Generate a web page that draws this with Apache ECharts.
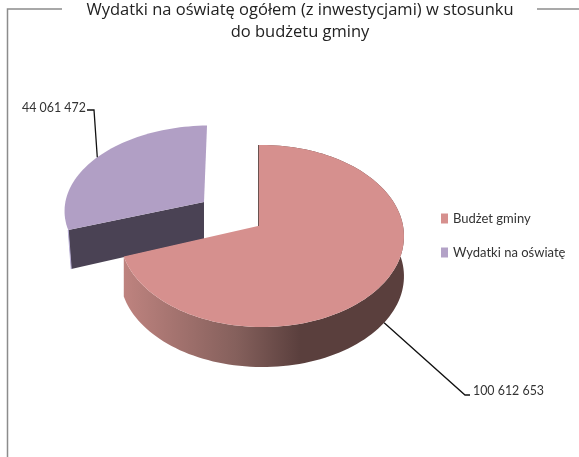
<!DOCTYPE html>
<html>
<head>
<meta charset="utf-8">
<title>Wydatki na oświatę</title>
<script src="https://cdn.jsdelivr.net/npm/echarts@6/dist/echarts.min.js"></script>
<style>
html, body { margin: 0; padding: 0; background: #fff; }
#main { width: 579px; height: 457px; }
</style>
</head>
<body>
<div id="main"></div>
<script>
// dane
var categories = ['Budżet gminy', 'Wydatki na oświatę'];
var values = [100612653, 44061472];
var titleText = 'Wydatki na oświatę ogółem (z inwestycjami) w stosunku\ndo budżetu gminy';

var total = values[0] + values[1];
var sweep = values[0] / total * 360;

// rzut okręgu z perspektywą, bo ECharts nie ma pie 3D
function project(g, deg) {
	var r = deg * Math.PI / 180;
	var u = Math.sin(r), v = Math.cos(r);
	var d = 1 + g.p * v + g.q * u;
	return [g.cx + (g.a * u + g.s * v) / d, g.cy - g.b * v / d];
}

function arc(g, from, to, dy) {
	var pts = [];
	var n = Math.ceil(Math.abs(to - from) / 2);
	for (var i = 0; i <= n; i++) {
		var p = project(g, from + (to - from) * i / n);
		pts.push([p[0], p[1] + dy]);
	}
	return pts;
}

var budzetGeo = { cx: 258, cy: 226, a: 141, b: 89.9, p: 0.11, q: -0.028, s: 0, depth: 40 };
var oswiataGeo = { cx: 204, cy: 202, a: 142.5, b: 83.3, p: 0.088, q: -0.028, s: 3.3, depth: 37 };

function label(text, x, y) {
	return {
		type: 'text',
		x: x,
		y: y,
		scaleX: 0.885,
		style: { text: text, x: 0, y: 0, fill: '#333', textVerticalAlign: 'middle', font: '14px Lato' }
	};
}

function leader(points) {
	return { type: 'polyline', shape: { points: points }, style: { stroke: '#111', lineWidth: 1.3, fill: null } };
}

function fmt(v) {
	return String(v).replace(/\B(?=(\d{3})+$)/g, ' ');
}

function renderBudzet(params, api) {
	var g = budzetGeo;
	var rim = arc(g, 0, sweep, 0);
	var low = arc(g, sweep, 0, g.depth);
	var anchor = project(g, sweep / 2);
	var side = new echarts.graphic.LinearGradient(124, 0, 404, 0, [
		{ offset: 0, color: '#BE837F' },
		{ offset: 0.4, color: '#85605C' },
		{ offset: 0.63, color: '#5A3F3D' },
		{ offset: 1, color: '#5A3F3D' }
	], true);
	return {
		type: 'group',
		children: [
			{ type: 'polygon', shape: { points: rim.concat(low) }, style: { fill: side } },
			{ type: 'polygon', shape: { points: [[g.cx, g.cy]].concat(rim) }, style: { fill: '#D6908E' } },
			{ type: 'line', shape: { x1: g.cx + 0.5, y1: project(g, 0)[1], x2: g.cx + 0.5, y2: g.cy }, style: { stroke: '#6B5250', lineWidth: 1 } },
			leader([[anchor[0], anchor[1] + g.depth], [465, 395], [470, 395]]),
			label(fmt(api.value(0)), 473, 390)
		]
	};
}

function renderOswiata(params, api) {
	var g = oswiataGeo;
	var rim = arc(g, sweep, 360, 0);
	var corner = rim[0];
	var anchor = project(g, (sweep + 360) / 2);
	return {
		type: 'group',
		children: [
			{ type: 'polygon', shape: { points: [[g.cx, g.cy], corner, [corner[0] + 3, corner[1] + 39], [g.cx, g.cy + g.depth]] }, style: { fill: '#4A4254' } },
			{ type: 'line', shape: { x1: corner[0], y1: corner[1], x2: corner[0] + 3, y2: corner[1] + 39 }, style: { stroke: '#B9AFD6', lineWidth: 1 } },
			{ type: 'polygon', shape: { points: [[g.cx, g.cy]].concat(rim) }, style: { fill: '#B19FC5' } },
			leader([[anchor[0], anchor[1]], [94, 110], [87, 110]]),
			label(fmt(api.value(0)), 22, 107)
		]
	};
}

var myChart = echarts.init(document.getElementById('main'));
var option = {
	animation: false,
	backgroundColor: '#fff',
	title: {
		text: titleText,
		left: 300,
		top: -1,
		padding: 0,
		textAlign: 'center',
		textStyle: { fontFamily: 'Open Sans', fontSize: 16.5, fontWeight: 'normal', color: '#222', lineHeight: 22 }
	},
	legend: {
		orient: 'vertical',
		left: 441,
		top: 212,
		padding: 0,
		itemWidth: 7,
		itemHeight: 10,
		itemGap: 21,
		icon: 'rect',
		data: categories,
		textStyle: { fontFamily: 'Lato', fontSize: 13, color: '#333' }
	},
	graphic: [
		{ type: 'polyline', silent: true, shape: { points: [[62, 9], [7.5, 9], [7.5, 457]] }, style: { stroke: '#8C8C8C', lineWidth: 1.5, fill: null } },
		{ type: 'line', silent: true, shape: { x1: 537, y1: 9, x2: 579, y2: 9 }, style: { stroke: '#8C8C8C', lineWidth: 1.5 } }
	],
	series: [
		{ type: 'custom', name: categories[1], coordinateSystem: 'none', renderItem: renderOswiata, itemStyle: { color: '#B3A2C7' }, data: [values[1]] },
		{ type: 'custom', name: categories[0], coordinateSystem: 'none', renderItem: renderBudzet, itemStyle: { color: '#D6908E' }, data: [values[0]] }
	]
};
myChart.setOption(option);
</script>
</body>
</html>
